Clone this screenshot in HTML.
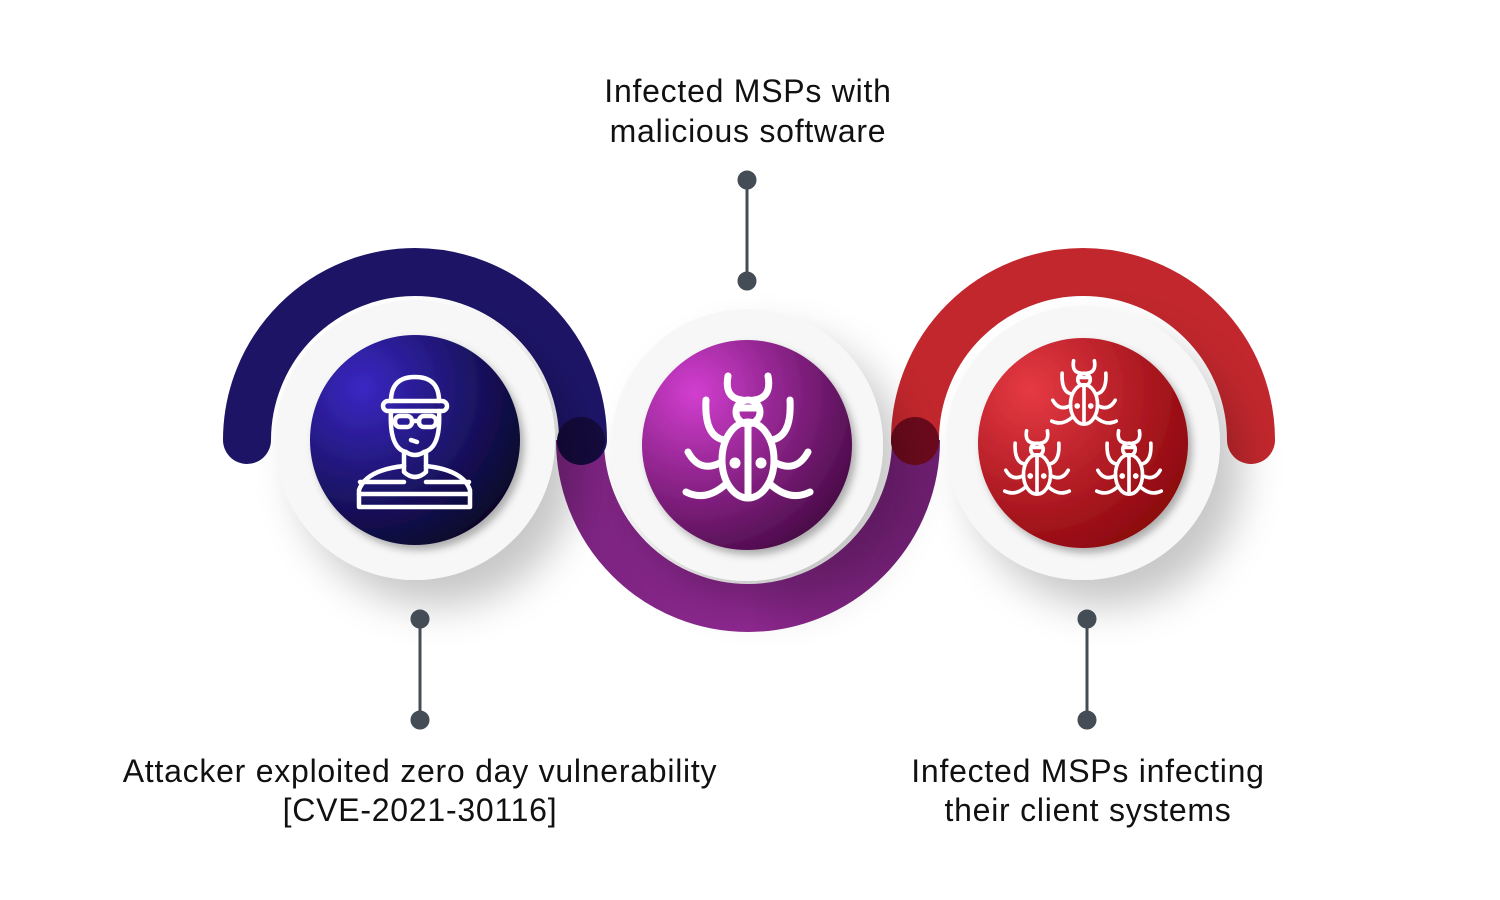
<!DOCTYPE html>
<html><head><meta charset="utf-8"><style>
html,body{margin:0;padding:0;background:#fff;}
svg{display:block}
text{font-family:"Liberation Sans",Arial,sans-serif;font-size:32px;letter-spacing:0.75px;fill:#111;}
</style></head><body>
<svg width="1500" height="900" viewBox="0 0 1500 900" xmlns="http://www.w3.org/2000/svg">
<defs>
<radialGradient id="gL" cx="0.25" cy="0.25" r="0.85"><stop offset="0" stop-color="#3a27c4"/><stop offset="1" stop-color="#07062a"/></radialGradient>
<radialGradient id="gM" cx="0.25" cy="0.25" r="0.85"><stop offset="0" stop-color="#d23ed0"/><stop offset="1" stop-color="#4a0b48"/></radialGradient>
<radialGradient id="gR" cx="0.25" cy="0.25" r="0.85"><stop offset="0" stop-color="#e63a44"/><stop offset="1" stop-color="#8c070e"/></radialGradient>
<linearGradient id="gArc" x1="0" y1="0" x2="1" y2="0"><stop offset="0" stop-color="#7b2380"/><stop offset="0.5" stop-color="#8e2890"/><stop offset="1" stop-color="#6e1e70"/></linearGradient>
<filter id="sh" x="-40%" y="-40%" width="200%" height="200%"><feDropShadow dx="22" dy="26" stdDeviation="20" flood-color="#000" flood-opacity="0.22"/></filter>
<filter id="sh2" x="-20%" y="-20%" width="140%" height="140%"><feDropShadow dx="4" dy="5" stdDeviation="4" flood-color="#000" flood-opacity="0.3"/></filter>
<g id="bug" fill="none" stroke="#fff" stroke-width="7" stroke-linecap="round">
<path d="M-20,-62 Q-24,-40 -6,-38 M20,-62 Q24,-40 6,-38"/>
<circle cx="0" cy="-26" r="12"/>
<path d="M-10,-30 H10"/>
<ellipse cx="0" cy="22" rx="26" ry="38"/>
<path d="M0,-14 V58"/>
<path d="M-24,2 Q-44,-2 -42,-38 M24,2 Q44,-2 42,-38"/>
<path d="M-26,24 Q-48,36 -60,14 M26,24 Q48,36 60,14"/>
<path d="M-22,46 Q-42,64 -62,54 M22,46 Q42,64 62,54"/>
<circle cx="-13" cy="25" r="2" fill="#fff"/><circle cx="13" cy="25" r="2" fill="#fff"/>
</g>
</defs>
<path d="M580,440 A168,168 0 0 0 916,440" fill="none" stroke="url(#gArc)" stroke-width="48"/>
<path d="M247,440 A168,168 0 0 1 583,440" fill="none" stroke="#1d1466" stroke-width="48" stroke-linecap="round"/>
<path d="M915,440 A168,168 0 0 1 1251,440" fill="none" stroke="#c1272d" stroke-width="48" stroke-linecap="round"/>
<circle cx="581" cy="441" r="24" fill="#140a3c"/>
<circle cx="915" cy="441" r="24" fill="#6a0a1c"/>
<circle cx="415" cy="440" r="140" fill="#f7f7f7" filter="url(#sh)"/>
<circle cx="415" cy="440" r="105" fill="url(#gL)" filter="url(#sh2)"/>
<circle cx="747" cy="445" r="136" fill="#f7f7f7" filter="url(#sh)"/>
<circle cx="747" cy="445" r="105" fill="url(#gM)" filter="url(#sh2)"/>
<circle cx="1083" cy="443" r="137" fill="#f7f7f7" filter="url(#sh)"/>
<circle cx="1083" cy="443" r="105" fill="url(#gR)" filter="url(#sh2)"/>
<g fill="none" stroke="#fff" stroke-width="4.5" stroke-linecap="round" stroke-linejoin="round">
<path d="M391,401 Q391,377 415,377 Q439,377 439,401"/>
<rect x="383" y="401" width="64" height="10" rx="5"/>
<path d="M391,411 Q389,448 406,452 Q415,458 424,452 Q441,448 439,411"/>
<rect x="395" y="416" width="17" height="11" rx="5"/><rect x="419" y="416" width="17" height="11" rx="5"/>
<path d="M412,421 H419"/><path d="M411,440 L417,442"/>
<path d="M404,452 V472 Q415,482 426,472 V452"/>
<path d="M404,466 Q366,470 359,490 V507 H470 V490 Q463,470 426,466"/>
<path d="M360,482 H404 M426,482 H469 M359,494 H470"/>
</g>
<use href="#bug" transform="translate(748,438)"/>
<use href="#bug" transform="translate(1084,393) scale(0.52)"/>
<use href="#bug" transform="translate(1037,463) scale(0.52)"/>
<use href="#bug" transform="translate(1129,463) scale(0.52)"/>
<g stroke="#444d56" stroke-width="3" fill="#444d56">
<line x1="747" y1="180" x2="747" y2="281"/><circle cx="747" cy="180" r="8"/><circle cx="747" cy="281" r="8"/>
<line x1="420" y1="619" x2="420" y2="720"/><circle cx="420" cy="619" r="8"/><circle cx="420" cy="720" r="8"/>
<line x1="1087" y1="619" x2="1087" y2="720"/><circle cx="1087" cy="619" r="8"/><circle cx="1087" cy="720" r="8"/>
</g>
<text x="748" y="102" text-anchor="middle">Infected MSPs with</text>
<text x="748" y="142" text-anchor="middle">malicious software</text>
<text x="420" y="782" text-anchor="middle">Attacker exploited zero day vulnerability</text>
<text x="420" y="821" text-anchor="middle">[CVE-2021-30116]</text>
<text x="1088" y="782" text-anchor="middle">Infected MSPs infecting</text>
<text x="1088" y="821" text-anchor="middle">their client systems</text>
</svg>
</body></html>
